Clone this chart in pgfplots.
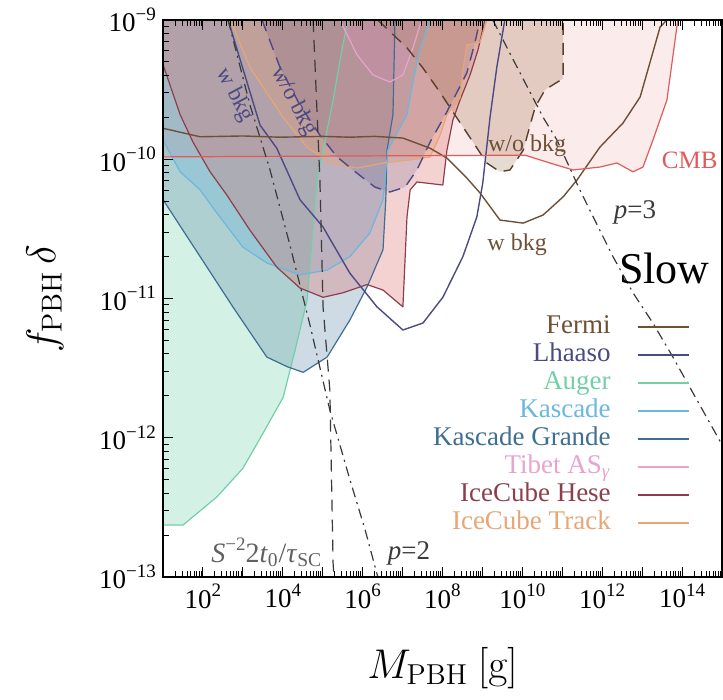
\documentclass[border=0pt]{standalone}
\usepackage[no-math]{fontspec}
\setmainfont{Liberation Serif}
\usepackage{pgfplots}
\usepackage{pgfplotstable}
\pgfplotsset{compat=1.18}

\definecolor{fermiC}{HTML}{6E5034}
\definecolor{lhaasoC}{HTML}{4B4A86}
\definecolor{augerC}{HTML}{72CFA8}
\definecolor{kasC}{HTML}{6AB7E0}
\definecolor{kgC}{HTML}{3E6E92}
\definecolor{tibetC}{HTML}{E9A3CF}
\definecolor{heseC}{HTML}{8B3F4D}
\definecolor{heseF}{HTML}{D96B6B}
\definecolor{trackC}{HTML}{E6A678}
\definecolor{cmbC}{HTML}{E05A5A}
\definecolor{fwoF}{HTML}{A88868}
\definecolor{darkC}{HTML}{3A3A3A}

\newcommand{\sups}[1]{\raisebox{0.42em}{\fontsize{9.5}{10}\selectfont #1}}

\def\xminors{1}
\foreach \e in {1,...,14}{\foreach \m in {2,...,9}{\xdef\xminors{\xminors,\m e\e}}}
\def\yminors{1}
\foreach \e in {-13,...,-10}{\foreach \m in {2,...,9}{\xdef\yminors{\yminors,\m e\e}}}

\pgfplotstableread{
x y
1e1 1e-9
1e1 2.36e-13
3.16e1 2.36e-13
2.24e2 3.76e-13
1.0e3 6.03e-13
3.16e3 1.07e-12
1.02e4 1.95e-12
2.04e4 4.27e-12
4.07e4 9.77e-12
5.37e4 2.63e-11
7.24e4 7.08e-11
1.02e5 1.16e-10
1.82e5 2.66e-10
3.02e5 6.10e-10
4.27e5 1e-9
}\auT

\pgfplotstableread{
x y
1e1 1e-9
1e1 1.37e-10
2.69e1 8.13e-11
8.51e1 6.03e-11
2.24e2 4.11e-11
1e3 2.34e-11
3.98e3 1.80e-11
2.69e4 1.48e-11
1.29e5 1.60e-11
4.79e5 2.0e-11
1.51e6 2.95e-11
3.24e6 5.13e-11
4.27e6 1.16e-10
1.29e7 2.09e-10
1.82e7 3.59e-10
2.75e7 6.31e-10
4.90e7 1e-9
}\kasT

\pgfplotstableread{
x y
1e1 1e-9
1e1 5.13e-11
8.51e1 2.0e-11
5.62e2 8.71e-12
3.98e3 3.80e-12
1.29e4 3.24e-12
3.24e4 2.95e-12
1.29e5 3.80e-12
4.79e5 7.01e-12
1.29e6 1.21e-11
3.24e6 2.24e-11
3.80e6 5.13e-11
4.07e6 1.16e-10
5.75e6 2.09e-10
6.46e6 1e-9
}\kgT

\pgfplotstableread{
x y
1e1 1e-9
1e1 4.79e-10
2.69e1 2.09e-10
5.62e1 1.33e-10
1.51e2 8.13e-11
3.98e2 5.53e-11
1.51e3 3.09e-11
7.08e3 1.68e-11
2.69e4 1.19e-11
1.02e5 1.02e-11
3.24e5 1.10e-11
1.29e6 1.26e-11
3.24e6 1.15e-11
1.02e7 8.71e-12
1.29e7 3.85e-11
1.55e7 6.03e-11
2.29e7 6.87e-11
1.02e8 6.53e-11
1.29e8 1.16e-10
1.82e8 1.91e-10
2.75e8 2.66e-10
4.90e8 4.03e-10
7.76e8 6.10e-10
1.15e9 1e-9
}\heseT

\pgfplotstableread{
x y
4.79e2 1e-9
1.51e3 4.57e-10
1.02e4 2.0e-10
4.07e4 1.22e-10
1.51e5 9.40e-11
7.24e5 8.65e-11
3.24e6 9.40e-11
1.55e7 9.89e-11
4.90e7 1.04e-10
8.71e7 1.49e-10
1.29e8 2.09e-10
2.75e8 2.75e-10
3.24e8 4.37e-10
4.07e8 6.61e-10
8.71e8 6.92e-10
1.29e9 1e-9
}\trackT

\pgfplotstableread{
x y
2.69e5 1e-9
7.24e5 5.62e-10
1.82e6 4.03e-10
4.79e6 3.59e-10
1.02e7 4.03e-10
1.82e7 6.31e-10
2.75e7 9.20e-10
3.09e7 1e-9
}\tibT

\pgfplotstableread{
x y
3.02e3 1e-9
8.51e3 4.57e-10
2.69e4 2.45e-10
8.51e4 1.49e-10
2.29e5 1.04e-10
7.24e5 7.94e-11
2.04e6 6.31e-11
4.79e6 5.82e-11
1.15e7 6.31e-11
2.29e7 8.38e-11
4.90e7 1.33e-10
1.29e8 2.19e-10
2.29e8 3.02e-10
4.07e8 4.17e-10
6.46e8 6.84e-10
8.71e8 1e-9
}\lwoT

\pgfplotstableread{
x y
4.27e2 1e-9
2.69e3 1.76e-10
7.08e3 1.20e-10
2.69e4 5.13e-11
1.02e5 3.26e-11
4.79e5 1.52e-11
2.29e6 8.71e-12
1.02e7 5.94e-12
3.24e7 6.67e-12
1.02e8 1.02e-11
3.24e8 2.0e-11
7.24e8 3.85e-11
1.02e9 6.76e-11
1.55e9 2.0e-10
2.29e9 4.57e-10
3.63e9 1e-9
}\lwT

\pgfplotstableread{
x y
1e1 1.67e-10
8.51e1 1.45e-10
1e3 1.47e-10
8.51e3 1.44e-10
1e5 1.46e-10
4.79e5 1.44e-10
2e6 1.46e-10
1.02e7 1.42e-10
4.90e7 1.20e-10
1.29e8 1.02e-10
4.07e8 7.33e-11
8.71e8 5.73e-11
2.75e9 3.66e-11
1.05e10 3.48e-11
3.31e10 3.98e-11
1.05e11 5.37e-11
2.34e11 7.10e-11
8.71e11 1.22e-10
3.31e12 1.82e-10
8.91e12 2.80e-10
2.82e13 8.91e-10
4.17e13 1e-9
}\fwT

\pgfplotstableread{
x y
2.40e6 1e-9
1.29e7 6.31e-10
3.24e7 4.52e-10
8.71e7 3.02e-10
1.82e8 2.19e-10
4.07e8 1.55e-10
1.29e9 9.40e-11
2.75e9 8.13e-11
4.90e9 8.38e-11
1.05e10 1.16e-10
2.09e10 2.37e-10
3.72e10 3.16e-10
1.05e11 3.80e-10
1.05e11 1e-9
}\fwoT

\pgfplotstableread{
x y
1e1 1e-9
1e1 1.04e-10
1.17e10 1.07e-10
4.90e10 9.40e-11
1.86e11 8.38e-11
8.71e11 8.79e-11
2.34e12 9.40e-11
5.89e12 8.13e-11
1.05e13 8.79e-11
1.86e13 1.37e-10
4.17e13 2.66e-10
7.41e13 8.91e-10
7.94e13 1e-9
}\cmbT

\pgfplotstableread{
x y
5.75e4 1e-9
8.51e4 7.10e-11
1.02e5 8.71e-12
1.51e5 2.20e-12
1.82e5 1.26e-13
1.91e5 1e-13
}\sT

\pgfplotstableread{
x y
4.27e2 1e-9
1.51e3 2.45e-10
4.79e3 8.38e-11
1.51e4 2.42e-11
4.79e4 6.46e-12
1.51e5 1.58e-12
4.79e5 5.01e-13
1.15e6 2.19e-13
2.40e6 1e-13
}\ptwoT

\pgfplotstableread{
x y
1.82e9 1e-9
7.41e9 4.57e-10
3.31e10 2.0e-10
7.41e10 1.37e-10
2.75e11 6.03e-11
8.71e11 3.09e-11
1.86e12 2.0e-11
5.89e12 1.10e-11
1.86e13 6.67e-12
5.89e13 3.80e-12
1e15 8.91e-13
}\pthreeT

\begin{document}
\begin{tikzpicture}
\begin{axis}[
  at={(0,0)}, anchor=south west,
  scale only axis, width=279.5pt, height=278.5pt,
  xmode=log, ymode=log,
  xmin=1e1, xmax=1e15, ymin=1e-13, ymax=1e-9,
  xtick={1e1,1e2,1e3,1e4,1e5,1e6,1e7,1e8,1e9,1e10,1e11,1e12,1e13,1e14,1e15},
  xticklabels={,10\sups{2},,10\sups{4},,10\sups{6},,10\sups{8},,10\sups{10},,10\sups{12},,10\sups{14},},
  ytick={1e-13,1e-12,1e-11,1e-10,1e-9},
  yticklabels={10\sups{−13},10\sups{−12},10\sups{−11},10\sups{−10},10\sups{−9}},
  minor xtick/.expanded={\xminors},
  minor ytick/.expanded={\yminors},
  ytick pos=left,
  tick align=inside,
  major tick length=5pt, minor tick length=3pt,
  every tick/.style={black, line width=0.5pt},
  axis line style={line width=0.6pt},
  axis on top,
  tick label style={font=\fontsize{13.5}{15}\selectfont},
  label style={font=\fontsize{20}{24}\selectfont},
  xlabel={$M_{\mathrm{PBH}}\ [\mathrm{g}]$},
  ylabel={$f_{\mathrm{PBH}}\,\delta$},
  xlabel style={at={(axis description cs:0.5,-0.1634)}, anchor=center},
  ylabel style={at={(axis description cs:-0.211,0.5)}, anchor=center},
  legend style={draw=none, fill=none, at={(0.943,0.474)}, anchor=north east,
    inner sep=0pt, row sep=0pt, column sep=12.5pt,
    font=\fontsize{13.5}{14}\selectfont,
    nodes={inner sep=0.5pt, text height=9.5pt, text depth=3.5pt}},
  legend cell align=right,
  legend plot pos=right,
  legend image code/.code={\draw[#1] (0pt,0pt) -- (25.5pt,0pt);},
  every axis plot/.append style={line join=round},
]
% fills
\addplot[forget plot, draw=none, fill=augerC, fill opacity=0.3] table {\auT};
\addplot[forget plot, draw=none, fill=kgC, fill opacity=0.25] table {\kgT};
\addplot[forget plot, draw=none, fill=kasC, fill opacity=0.3] table {\kasT};
\addplot[forget plot, draw=none, fill=heseF, fill opacity=0.3] table {\heseT};
\addplot[forget plot, draw=none, fill=trackC, fill opacity=0.3] table {\trackT};
\addplot[forget plot, draw=none, fill=tibetC, fill opacity=0.3] table {\tibT};
\addplot[forget plot, draw=none, fill=lhaasoC, fill opacity=0.18] table {\lwoT};
\addplot[forget plot, draw=none, fill=fwoF, fill opacity=0.3] table {\fwoT};
\addplot[forget plot, draw=none, fill=cmbC, fill opacity=0.12] table {\cmbT};
% boundary lines
\addplot[forget plot, augerC, line width=0.6pt, skip coords between index={0}{1}] table {\auT};
\addplot[forget plot, kgC, line width=0.6pt, skip coords between index={0}{1}] table {\kgT};
\addplot[forget plot, kasC, line width=0.6pt, skip coords between index={0}{1}] table {\kasT};
\addplot[forget plot, heseC, line width=0.6pt, skip coords between index={0}{1}] table {\heseT};
\addplot[forget plot, trackC, line width=0.6pt] table {\trackT};
\addplot[forget plot, tibetC, line width=0.6pt] table {\tibT};
\addplot[forget plot, lhaasoC, line width=0.7pt, dash pattern=on 6pt off 4pt] table {\lwoT};
\addplot[forget plot, lhaasoC, line width=0.7pt] table {\lwT};
\addplot[forget plot, fermiC!80!black, line width=0.7pt, dash pattern=on 6pt off 4pt] table {\fwoT};
\addplot[forget plot, fermiC, line width=0.7pt] table {\fwT};
\addplot[forget plot, cmbC, line width=0.6pt, skip coords between index={0}{1}] table {\cmbT};
\addplot[forget plot, darkC, line width=0.6pt, dash pattern=on 6pt off 4pt] table {\sT};
\addplot[forget plot, darkC, line width=0.6pt, dash pattern=on 5pt off 2.5pt on 1pt off 2.5pt] table {\ptwoT};
\addplot[forget plot, darkC, line width=0.6pt, dash pattern=on 5pt off 2.5pt on 1pt off 2.5pt] table {\pthreeT};
% text labels
\node[lhaasoC, rotate=-62, font=\fontsize{11.5}{12}\selectfont] at (axis cs:6.3e2,2.9e-10) {w bkg};
\node[lhaasoC, rotate=-62, font=\fontsize{11.5}{12}\selectfont] at (axis cs:1.9e4,2.6e-10) {w/o bkg};
\node[fermiC, font=\fontsize{12}{13}\selectfont] at (axis cs:1.32e10,1.24e-10) {w/o bkg};
\node[fermiC, font=\fontsize{12}{13}\selectfont] at (axis cs:7.41e9,2.42e-11) {w bkg};
\node[cmbC, anchor=west, font=\fontsize{12.5}{13}\selectfont] at (axis cs:2.09e13,9.89e-11) {CMB};
\node[darkC, font=\fontsize{13.5}{14}\selectfont] at (axis cs:6.61e12,4.17e-11) {\textit{p}=3};
\node[darkC, font=\fontsize{13.5}{14}\selectfont] at (axis cs:1.45e7,1.48e-13) {\textit{p}=2};
\node[darkC!80, font=\fontsize{14}{15}\selectfont] at (axis cs:3.98e3,1.51e-13) {\textit{S}\sups{−2}2\textit{t}\textsubscript{0}/\textit{τ}\textsubscript{SC}};
\node[black, anchor=base west, font=\fontsize{22}{24}\selectfont] at (axis cs:1.78e12,1.29e-11) {Slow};
% legend
\addlegendimage{draw=fermiC, solid, line width=1pt}\addlegendentry{\textcolor{fermiC}{Fermi}}
\addlegendimage{draw=lhaasoC, solid, line width=1pt}\addlegendentry{\textcolor{lhaasoC}{Lhaaso}}
\addlegendimage{draw=augerC, solid, line width=1pt}\addlegendentry{\textcolor{augerC}{Auger}}
\addlegendimage{draw=kasC, solid, line width=1pt}\addlegendentry{\textcolor{kasC}{Kascade}}
\addlegendimage{draw=kgC, solid, line width=1pt}\addlegendentry{\textcolor{kgC}{Kascade Grande}}
\addlegendimage{draw=tibetC, solid, line width=1pt}\addlegendentry{\textcolor{tibetC}{Tibet AS\textsubscript{\textit{γ}}}}
\addlegendimage{draw=heseC, solid, line width=1pt}\addlegendentry{\textcolor{heseC}{IceCube Hese}}
\addlegendimage{draw=trackC, solid, line width=1pt}\addlegendentry{\textcolor{trackC}{IceCube Track}}
\end{axis}
\pgfresetboundingbox
\path[use as bounding box] (-81.5pt,-61.5pt) rectangle (280pt,288.5pt);
\end{tikzpicture}
\end{document}
